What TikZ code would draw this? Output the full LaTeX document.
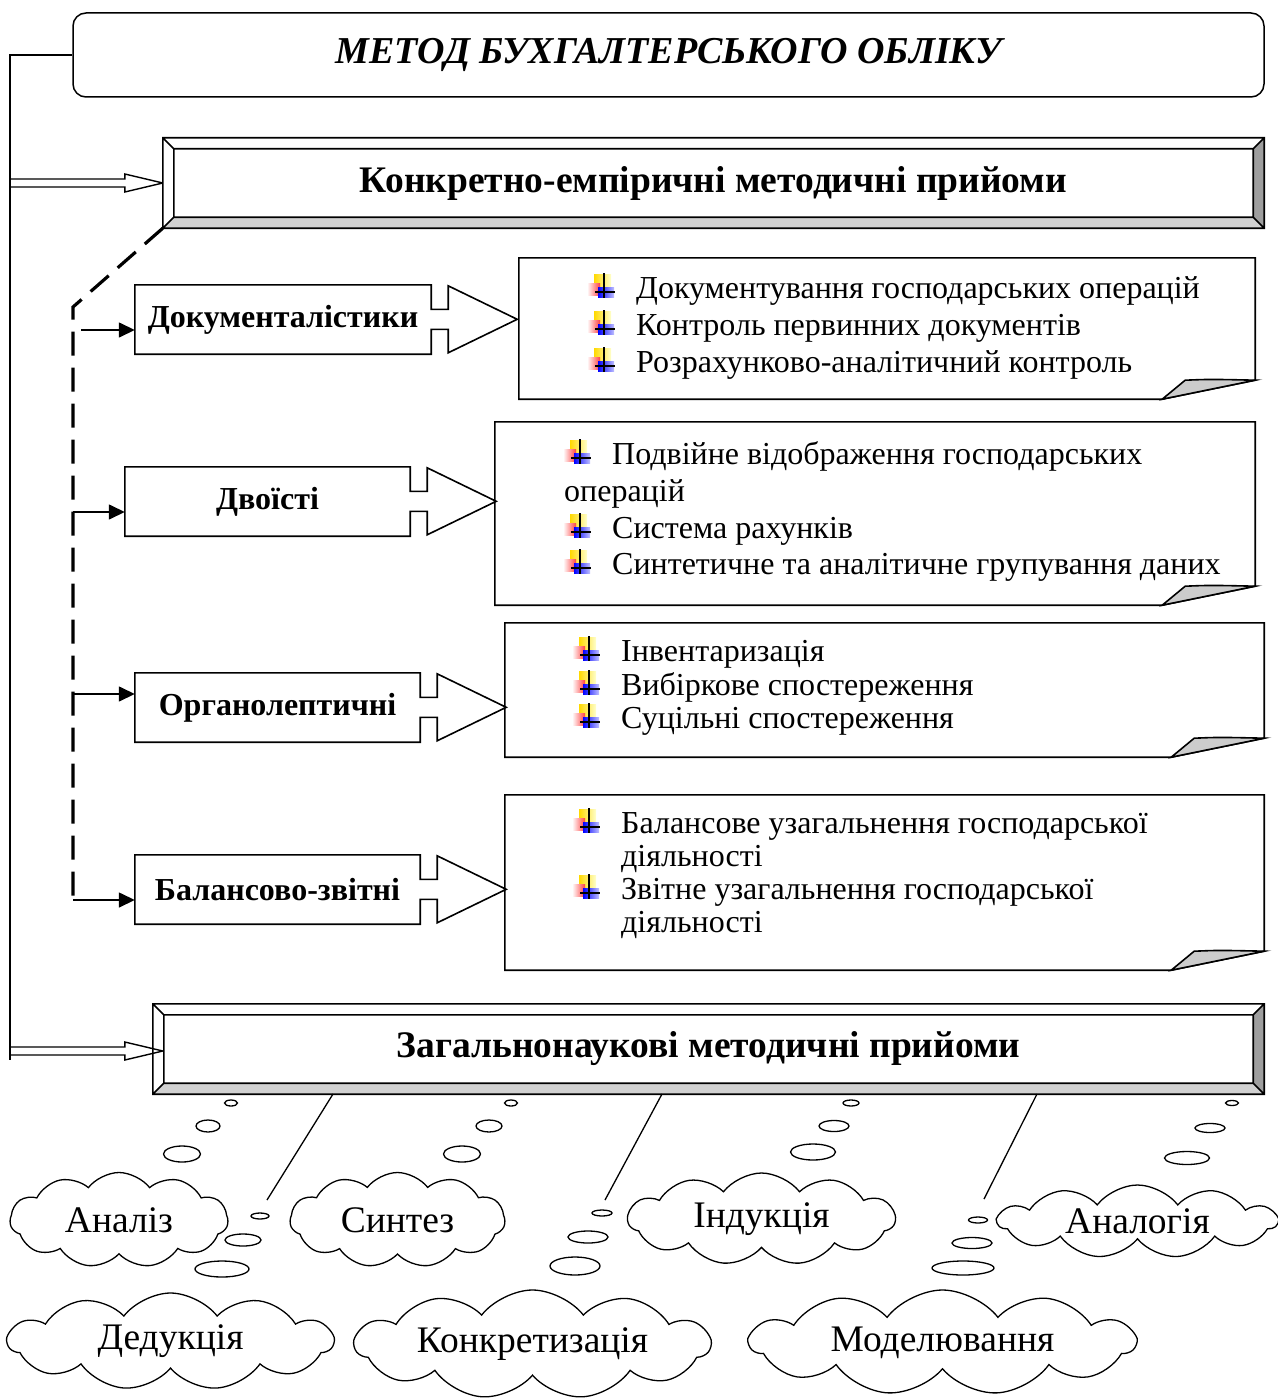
\documentclass[tikz,border=0pt]{standalone}
\usepackage{fontspec}
\setmainfont{Liberation Serif}
\usetikzlibrary{calc,shapes.symbols,arrows.meta}

\tikzset{
  outline/.style={line width=1.6pt},
  titlebox/.style={draw, rounded corners=13pt, line width=1.5pt, minimum width=1191pt, minimum height=84pt, font=\fontsize{38}{44}\selectfont\bfseries\itshape},
  headtext/.style={inner sep=0pt, font=\fontsize{37.5}{44}\selectfont\bfseries},
  methbox/.style={minimum height=69pt, inner sep=0pt, font=\fontsize{32}{38}\selectfont\bfseries},
  notebox/.style={inner sep=0pt},
  item/.style={anchor=base west, inner sep=0pt, font=\fontsize{32}{38}\selectfont},
  idea/.style={draw, cloud, cloud puffs=11, cloud puff arc=105, cloud ignores aspect, line width=1.3pt, inner sep=0pt, font=\fontsize{37.5}{44}\selectfont},
  bubble/.style={line width=1.3pt},
  feed/.style={line width=1.5pt, -{Triangle[length=16pt,width=15pt]}},
  dashline/.style={line width=3.2pt, dash pattern=on 24pt off 12pt},
  bul/.pic={
    \shade[left color=yellow!70!orange, right color=yellow!20] (-9,-13) rectangle (8,2);
    \shade[left color=red!5, right color=red!75] (-15,-4) rectangle (-3,8);
    \shade[left color=blue, right color=blue!25] (-5,0) rectangle (11,10);
    \draw[line width=1.5pt] (1,-14) -- (1,11) (-8,5) -- (12,5);
  }
}

% bevelled frame round a node
\newcommand\bevel[1]{%
  \fill[black!18] (#1.south west) -- (#1.south east) -- ($(#1.south east)+(-11,-11)$) -- ($(#1.south west)+(11,-11)$) -- cycle;
  \fill[black!38] (#1.north east) -- (#1.south east) -- ($(#1.south east)+(-11,-11)$) -- ($(#1.north east)+(-11,11)$) -- cycle;
  \draw[outline] (#1.north west) rectangle (#1.south east)
    ($(#1.north west)+(11,11)$) rectangle ($(#1.south east)+(-11,-11)$)
    (#1.north west) -- ++(11,11) (#1.north east) -- ++(-11,11)
    (#1.south west) -- ++(11,-11) (#1.south east) -- ++(-11,-11);
}
% box with block arrow on its right side
\newcommand\callout[1]{%
  \draw[outline] (#1.north west) -- (#1.north east) -- ++(0,24.5) -- ++(17,0) -- ++(0,-23.5)
    -- ++(69,33.5) -- ++(-69,33.5) -- ++(0,-23.5) -- ++(-17,0) -- (#1.south east) -- (#1.south west) -- cycle;
}
% note with folded corner
\newcommand\note[1]{%
  \draw[outline] (#1.north west) -- (#1.north east) -- ($(#1.south east)+(0,-19)$) -- ($(#1.south east)+(-93,0)$) -- (#1.south west) -- cycle;
  \filldraw[outline, fill=black!20] ($(#1.south east)+(-93,0)$) -- ($(#1.south east)+(-70,-19)$)
    .. controls ($(#1.south east)+(-45,-20)$) .. ($(#1.south east)+(0,-19)$) -- cycle;
}

\begin{document}
\begin{tikzpicture}[x=1pt, y=-1pt]
\useasboundingbox (0,0) rectangle (1277,1399);

\node[titlebox] (metod) at (668.5,55) {МЕТОД БУХГАЛТЕРСЬКОГО ОБЛІКУ};

\node[headtext, minimum width=1101pt, minimum height=90pt] (konkr) at (713.5,183) {Конкретно-емпіричні методичні прийоми};
\bevel{konkr}
\node[headtext, minimum width=1111pt, minimum height=90pt] (zag) at (708.5,1049) {Загальнонаукові методичні прийоми};
\bevel{zag}

% left feed line
\coordinate (lbot) at (10,1060);
\draw[outline] (metod.west) -| (lbot);
\draw[line width=1.4pt] (konkr.west) -- ++(-38,-9) -- ++(0,5) -- ++(-115,0)
  (konkr.west) -- ++(-38,9) -- ++(0,-5) -- ++(-115,0);
\coordinate (ztip) at ($(zag.west)+(10,2)$);
\draw[line width=1.4pt] (ztip) -- ++(-38,-9) -- ++(0,5) -- ++(-115,0)
  (ztip) -- ++(-38,9) -- ++(0,-5) -- ++(-115,0);

% groups of methods
\node[methbox, minimum width=296pt] (dok) at (283,319.5) {Документалістики};
\callout{dok}
\node[methbox, minimum width=285pt] (dvo) at (267.5,501.5) {Двоїсті};
\callout{dvo}
\node[methbox, minimum width=285pt] (org) at (277.5,707.5) {Органолептичні};
\callout{org}
\node[methbox, minimum width=285pt] (bal) at (277.5,889.5) {Балансово-звітні};
\callout{bal}

\coordinate (dtop) at (73,307);
\coordinate (d1) at (81,330);
\coordinate (d2) at (73,512);
\coordinate (d3) at (73,694);
\coordinate (d4) at (73,900);
\draw[dashline] (konkr.south west) -- (dtop) -- (d4);
\draw[feed] (d1) -- (d1 -| dok.west);
\draw[feed] (d2) -- (d2 -| dvo.west);
\draw[feed] (d3) -- (d3 -| org.west);
\draw[feed] (d4) -- (d4 -| bal.west);

% notes
\node[notebox, minimum width=736pt, minimum height=141pt] (t1) at (887,328.5) {};
\note{t1}
\pic at (603,287) {bul};
\pic at (603,324) {bul};
\pic at (603,361) {bul};
\node[item] (t1a) at (636,298) {Документування господарських операцій};
\node[item] (t1b) at (636,335) {Контроль первинних документів};
\node[item] (t1c) at (636,372) {Розрахунково-аналітичний контроль};

\node[notebox, minimum width=760pt, minimum height=183pt] (t2) at (875,513.5) {};
\note{t2}
\pic at (579,453) {bul};
\pic at (579,527) {bul};
\pic at (579,563) {bul};
\node[item] (t2a) at (612,464) {Подвійне відображення господарських};
\node[item] (t2b) at (564,501) {операцій};
\node[item] (t2c) at (612,538) {Система рахунків};
\node[item] (t2d) at (612,574) {Синтетичне та аналітичне групування даних};

\node[notebox, minimum width=759pt, minimum height=134pt] (t3) at (884.5,690) {};
\note{t3}
\pic at (588,650) {bul};
\pic at (588,684) {bul};
\pic at (588,717) {bul};
\node[item] (t3a) at (621,661) {Інвентаризація};
\node[item] (t3b) at (621,695) {Вибіркове спостереження};
\node[item] (t3c) at (621,728) {Суцільні спостереження};

\node[notebox, minimum width=759pt, minimum height=175pt] (t4) at (884.5,882.5) {};
\note{t4}
\pic at (588,822) {bul};
\pic at (588,888) {bul};
\node[item] (t4a) at (621,833) {Балансове узагальнення господарської};
\node[item] (t4b) at (621,866) {діяльності};
\node[item] (t4c) at (621,899) {Звітне узагальнення господарської};
\node[item] (t4d) at (621,932) {діяльності};

% clouds
\node[idea, minimum width=218pt, minimum height=95pt] (an) at (119,1220) {Аналіз};
\node[idea, minimum width=215pt, minimum height=95pt] (sy) at (397.5,1220) {Синтез};
\node[idea, minimum width=267pt, minimum height=92pt] (in) at (761.5,1219) {Індукція};
\node[idea, minimum width=279pt, minimum height=73pt] (ag) at (1137.5,1221.5) {Аналогія};
\node[idea, minimum width=325pt, minimum height=97pt] (de) at (170.5,1341.5) {Дедукція};
\node[idea, minimum width=355pt, minimum height=109pt] (ko) at (532.5,1344.5) {Конкретизація};
\node[idea, minimum width=385pt, minimum height=105pt] (mo) at (942.5,1342.5) {Моделювання};

\foreach \x/\y/\w/\h in {231/1103/13/6, 208/1126/24/12, 182/1154/37/16,
    511/1103/13/6, 489/1126/26/12, 462/1154/37/16,
    851/1103/16/6, 834/1126/30/11, 813/1152/45/16,
    1232/1103/13/5, 1210/1128/30/9, 1187/1158/45/13,
    260/1216/18/6, 243/1240/36/12, 222/1269/54/16,
    602/1213/20/6, 588/1237/40/12, 575/1266/50/18,
    978/1220/19/6, 972/1243/40/11, 963/1268/62/14}
  \draw[bubble] (\x,\y) ellipse [x radius=\w/2, y radius=\h/2];

\draw[bubble] (333,1094) -- (267,1200);
\draw[bubble] (662,1094) -- (605,1200);
\draw[bubble] (1037,1094) -- (984,1199);
\end{tikzpicture}
\end{document}
